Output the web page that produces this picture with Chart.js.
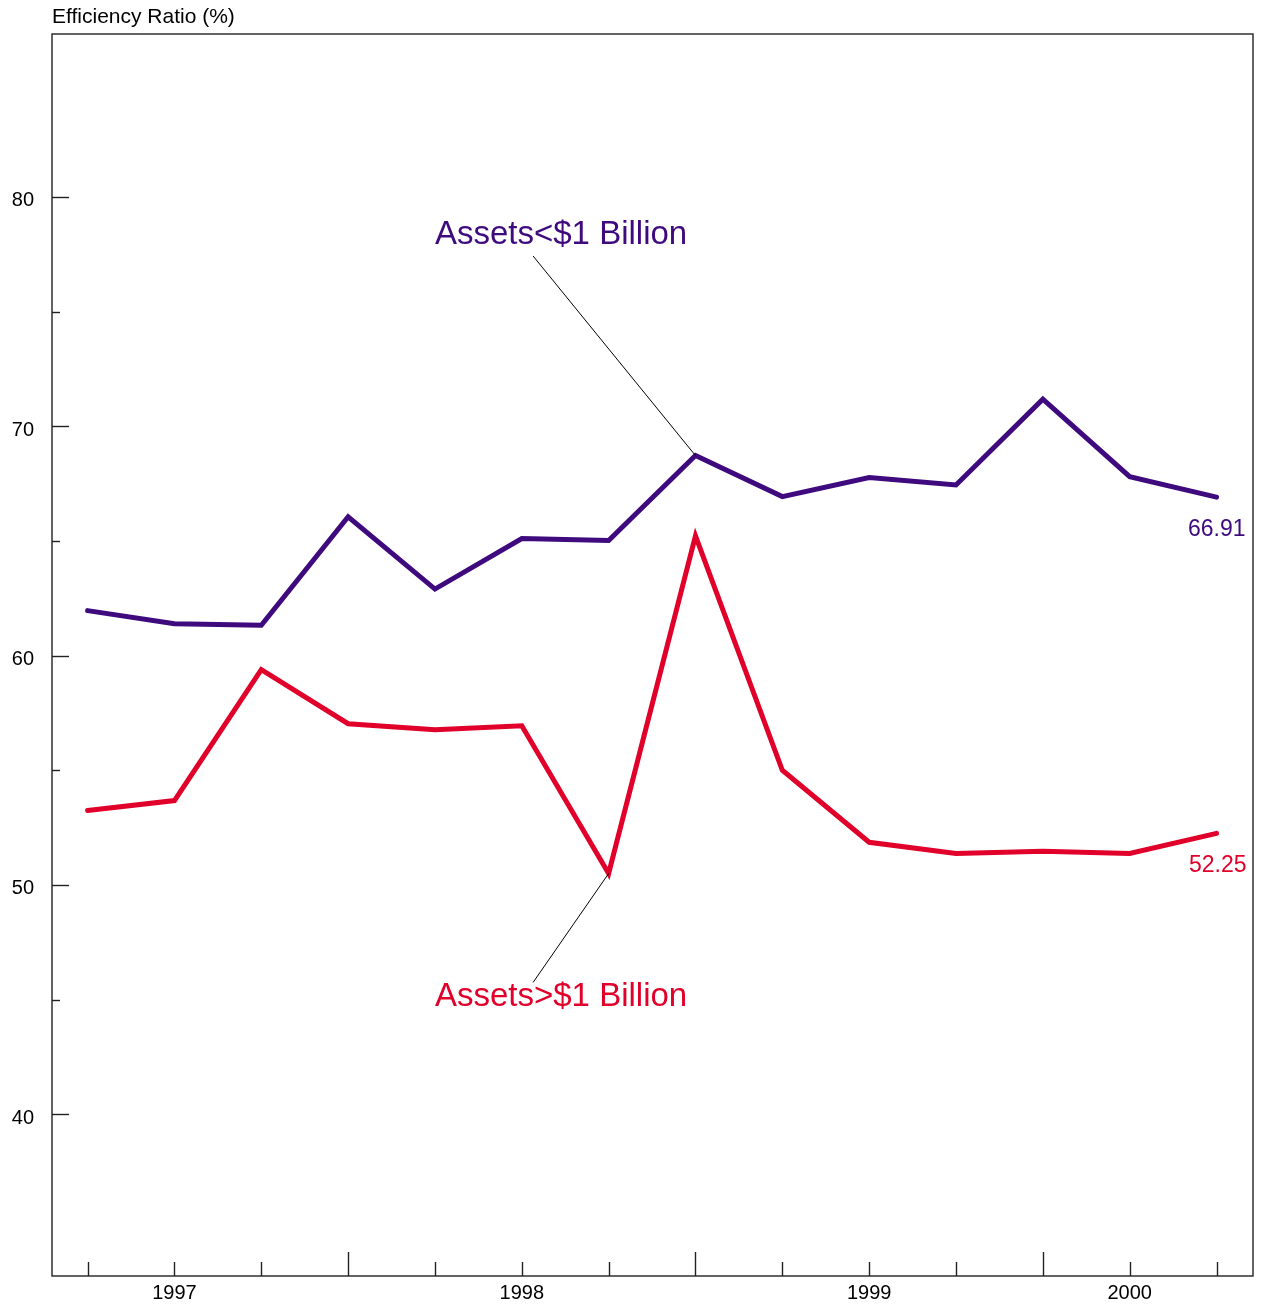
<!DOCTYPE html>
<html>
<head>
<meta charset="utf-8">
<script src="https://cdn.jsdelivr.net/npm/chart.js@4.4.0/dist/chart.umd.min.js"></script>
<style>
  html, body { margin: 0; padding: 0; background: #fff; }
  #wrap { width: 1262px; height: 1306px; }
</style>
</head>
<body>
<div id="wrap"><canvas id="chart" width="1262" height="1306"></canvas></div>
<script>
// quarterly points, 14 of them
const quarters = [0, 1, 2, 3, 4, 5, 6, 7, 8, 9, 10, 11, 12, 13];
const smallBanks = [61.96, 61.39, 61.32, 66.05, 62.90, 65.10, 65.02, 68.72, 66.93, 67.76, 67.44, 71.18, 67.80, 66.91];
const largeBanks = [53.25, 53.68, 59.39, 57.03, 56.77, 56.94, 50.50, 65.22, 55.00, 51.86, 51.37, 51.47, 51.37, 52.25];

const yearTicks = [1, 5, 9, 12];
const yearLabels = ['1997', '1998', '1999', '2000'];
const tallTicks = [3, 7, 11];
const yMajor = [40, 50, 60, 70, 80];
const yMinor = [45, 55, 65, 75];

const PURPLE = '#3e0a7e';
const RED = '#e0002a';
const FONT = 'Arial, "Liberation Sans", sans-serif';

const toPoints = (arr) => arr.map((v, i) => ({ x: quarters[i], y: v }));

const PluginDecor = {
    id: 'decor',
    afterDraw(chart) {
        const { ctx, chartArea: { left, top, right, bottom } } = chart;
        const xs = chart.scales.x;
        const ys = chart.scales.y;
        ctx.save();

        // frame
        ctx.strokeStyle = '#222';
        ctx.lineWidth = 1.4;
        ctx.strokeRect(left, top, right - left, bottom - top);

        // x ticks, pointing up into the plot
        quarters.forEach(q => {
            const px = Math.round(xs.getPixelForValue(q)) + 0.5;
            const len = tallTicks.includes(q) ? 24 : 14;
            ctx.beginPath();
            ctx.moveTo(px, bottom);
            ctx.lineTo(px, bottom - len);
            ctx.stroke();
        });

        // y ticks, pointing right into the plot
        yMajor.concat(yMinor).forEach(v => {
            const py = Math.round(ys.getPixelForValue(v)) + 0.5;
            const len = yMajor.includes(v) ? 17 : 8;
            ctx.beginPath();
            ctx.moveTo(left, py);
            ctx.lineTo(left + len, py);
            ctx.stroke();
        });

        // axis title
        ctx.fillStyle = '#000';
        ctx.font = '21px ' + FONT;
        ctx.textAlign = 'left';
        ctx.textBaseline = 'middle';
        ctx.fillText('Efficiency Ratio (%)', 52, 17);

        // series labels with leader lines
        ctx.strokeStyle = '#000';
        ctx.lineWidth = 1;
        ctx.beginPath();
        ctx.moveTo(xs.getPixelForValue(5.13), ys.getPixelForValue(77.42));
        ctx.lineTo(xs.getPixelForValue(7), ys.getPixelForValue(smallBanks[7]));
        ctx.stroke();
        ctx.beginPath();
        ctx.moveTo(xs.getPixelForValue(5.13), ys.getPixelForValue(45.75));
        ctx.lineTo(xs.getPixelForValue(6), ys.getPixelForValue(largeBanks[6]));
        ctx.stroke();

        ctx.font = '33px ' + FONT;
        ctx.fillStyle = PURPLE;
        ctx.fillText('Assets<$1 Billion', xs.getPixelForValue(4.0), ys.getPixelForValue(78.33));
        ctx.fillStyle = RED;
        ctx.fillText('Assets>$1 Billion', xs.getPixelForValue(4.0), ys.getPixelForValue(45.10));

        // last values
        const lastX = xs.getPixelForValue(quarters[quarters.length - 1]);
        ctx.font = '23px ' + FONT;
        ctx.textAlign = 'right';
        ctx.fillStyle = PURPLE;
        ctx.fillText(smallBanks[smallBanks.length - 1].toFixed(2), lastX + 29, ys.getPixelForValue(smallBanks[smallBanks.length - 1]) + 33);
        ctx.fillStyle = RED;
        ctx.fillText(largeBanks[largeBanks.length - 1].toFixed(2), lastX + 30, ys.getPixelForValue(largeBanks[largeBanks.length - 1]) + 32);

        ctx.restore();
    }
};

const ChartData = {
    type: 'line',
    plugins: [PluginDecor],
    data: {
        datasets: [
            {
                label: 'Assets<$1 Billion',
                data: toPoints(smallBanks),
                borderColor: PURPLE,
                borderWidth: 5,
                borderCapStyle: 'round',
                borderJoinStyle: 'miter',
                pointRadius: 0,
                tension: 0,
                fill: false
            },
            {
                label: 'Assets>$1 Billion',
                data: toPoints(largeBanks),
                borderColor: RED,
                borderWidth: 5,
                borderCapStyle: 'round',
                borderJoinStyle: 'miter',
                pointRadius: 0,
                tension: 0,
                fill: false
            }
        ]
    },
    options: {
        responsive: false,
        animation: false,
        layout: { padding: { top: 34, right: 9, left: 0, bottom: 0 } },
        plugins: {
            legend: { display: false },
            tooltip: { enabled: false },
            title: { display: false }
        },
        scales: {
            x: {
                type: 'linear',
                min: -0.41,
                max: 13.42,
                afterBuildTicks: (scale) => { scale.ticks = yearTicks.map(v => ({ value: v })); },
                afterFit: (scale) => { scale.height = 29; },
                grid: { display: false, drawTicks: false },
                border: { display: false },
                ticks: {
                    padding: 5,
                    color: '#000',
                    font: { family: FONT, size: 20 },
                    maxRotation: 0,
                    autoSkip: false,
                    callback: (v) => yearLabels[yearTicks.indexOf(v)] ?? ''
                }
            },
            y: {
                min: 32.95,
                max: 87.1,
                afterBuildTicks: (scale) => { scale.ticks = yMajor.map(v => ({ value: v })); },
                afterFit: (scale) => { scale.width = 52; },
                grid: { display: false, drawTicks: false },
                border: { display: false },
                ticks: {
                    padding: 18,
                    labelOffset: 4,
                    color: '#000',
                    font: { family: FONT, size: 20 },
                    callback: (v) => String(v)
                }
            }
        }
    }
};

const chart = new Chart(document.getElementById('chart').getContext('2d'), ChartData);
</script>
</body>
</html>
